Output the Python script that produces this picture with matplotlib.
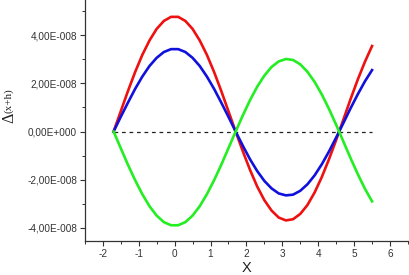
import matplotlib
matplotlib.use("Agg")
import matplotlib.pyplot as plt
from matplotlib.ticker import MultipleLocator, FixedLocator

x = [-1.7, -1.5, -1.3, -1.1, -0.9, -0.7, -0.5, -0.3, -0.1, 0.1, 0.3, 0.5, 0.7,
     0.9, 1.1, 1.3, 1.5, 1.7, 1.9, 2.1, 2.3, 2.5, 2.7, 2.9, 3.1, 3.3, 3.5, 3.7,
     3.9, 4.1, 4.3, 4.5, 4.7, 4.9, 5.1, 5.3, 5.5]

# values in units of 1e-8
red = [0.00, 0.84, 1.68, 2.47, 3.18, 3.78, 4.26, 4.59, 4.76, 4.76, 4.59, 4.26, 3.78,
       3.18, 2.47, 1.68, 0.84, 0.00, -0.82, -1.59, -2.28, -2.85, -3.28, -3.57, -3.69,
       -3.64, -3.42, -3.05, -2.53, -1.89, -1.15, -0.35, 0.49, 1.34, 2.15, 2.89, 3.55]
blue = [0.00, 0.61, 1.20, 1.77, 2.28, 2.72, 3.06, 3.30, 3.42, 3.42, 3.30, 3.06, 2.72,
        2.28, 1.77, 1.20, 0.61, 0.00, -0.59, -1.15, -1.64, -2.05, -2.36, -2.57, -2.65,
        -2.62, -2.46, -2.19, -1.82, -1.36, -0.83, -0.25, 0.35, 0.96, 1.54, 2.08, 2.55]
green = [0.00, -0.69, -1.38, -2.02, -2.60, -3.10, -3.49, -3.76, -3.89, -3.89, -3.76,
         -3.49, -3.10, -2.60, -2.02, -1.38, -0.69, 0.00, 0.67, 1.30, 1.86, 2.32, 2.68,
         2.91, 3.01, 2.97, 2.79, 2.48, 2.06, 1.54, 0.94, 0.28, -0.41, -1.10, -1.76,
         -2.37, -2.90]

baseline_x = [-1.7, 5.5]
baseline_y = [0.0, 0.0]

xticks = [-2, -1, 0, 1, 2, 3, 4, 5, 6]
yticks = [4, 2, 0, -2, -4]
ytick_labels = ["4,00E-008", "2,00E-008", "0,00E+000", "-2,00E-008", "-4,00E-008"]

scale = 1e-8
plt.rcParams['font.family'] = ['Liberation Sans', 'DejaVu Sans']

fig = plt.figure(figsize=(4.1, 2.75), dpi=100)
ax = fig.add_axes([0.207, 0.124, 0.788, 0.876])

ax.plot(baseline_x, [v * scale for v in baseline_y], color='#222222', lw=0.9,
        linestyle=(0, (3, 3)))
ax.plot(x, [v * scale for v in red], color='#ee1111', lw=1.9)
ax.plot(x, [v * scale for v in blue], color='#1111dd', lw=1.9)
ax.plot(x, [v * scale for v in green], color='#22ee22', lw=1.9)

ax.set_xlim(-2.5, 6.5)
ax.set_ylim(-4.54 * scale, 5.46 * scale)

ax.spines['top'].set_visible(False)
ax.spines['right'].set_visible(False)
for s in ('left', 'bottom'):
    ax.spines[s].set_color('#333333')
    ax.spines[s].set_linewidth(0.9)

ax.xaxis.set_major_locator(FixedLocator(xticks))
ax.xaxis.set_minor_locator(MultipleLocator(0.5))
ax.set_xticklabels([str(t) for t in xticks])
ax.yaxis.set_major_locator(FixedLocator([t * scale for t in yticks]))
ax.yaxis.set_minor_locator(MultipleLocator(1e-8))
ax.set_yticklabels(ytick_labels)

ax.tick_params(axis='both', which='major', direction='out', length=3.5, width=0.8,
               labelsize=7.2, colors='#333333', pad=2)
ax.tick_params(axis='both', which='minor', direction='out', length=2, width=0.7,
               colors='#333333')

ax.set_xlabel('X', fontsize=10.5, color='#222222', labelpad=2)

serif = ['Liberation Serif', 'DejaVu Serif']
fig.text(0.024, 0.573, 'Δ', rotation=90, ha='center', va='center',
         fontsize=11.5, family=serif, color='#222222')
fig.text(0.020, 0.634, '(x+h)', rotation=90, ha='center', va='center',
         fontsize=8, family=serif, color='#222222')

fig.savefig('out.png', dpi=100)
